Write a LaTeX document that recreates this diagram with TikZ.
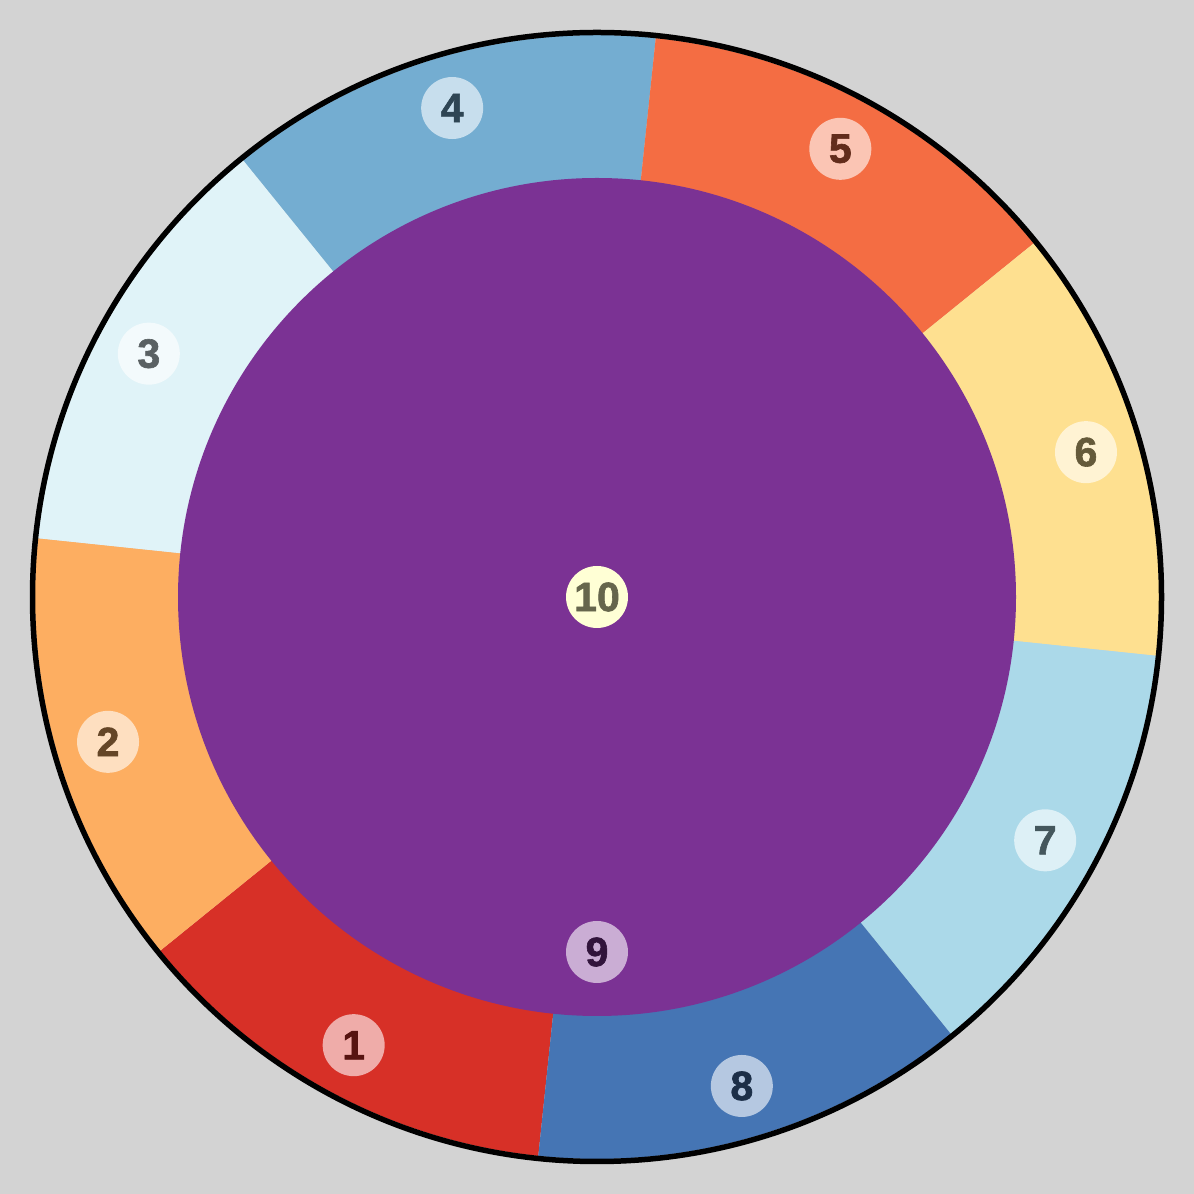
\documentclass[tikz,border=0pt]{standalone}
\usepackage{fontspec}
\setmainfont{Liberation Sans}
\newfontfamily\lblfont{Liberation Sans}[BoldFeatures={FakeBold=1.5}]
\usetikzlibrary{calc}
\definecolor{bggray}{HTML}{D3D3D3}
\definecolor{sA}{HTML}{D73027}
\definecolor{sB}{HTML}{FDAE61}
\definecolor{sC}{HTML}{E0F3F8}
\definecolor{sD}{HTML}{74ADD1}
\definecolor{sE}{HTML}{F46D43}
\definecolor{sF}{HTML}{FEE090}
\definecolor{sG}{HTML}{ABD9E9}
\definecolor{sH}{HTML}{4575B4}
\definecolor{sI}{HTML}{7B3294}
\definecolor{sJ}{HTML}{FFFFBF}
\begin{document}
\begin{tikzpicture}[x=1pt,y=1pt,
  lbl/.style={circle, minimum size=62pt, inner sep=0pt,
    font=\lblfont\fontsize{41}{41}\selectfont\bfseries}]
\fill[bggray] (0,0) rectangle (1194,1194);
\useasboundingbox (0,0) rectangle (1194,1194);
\coordinate (c) at (597,597);
\foreach \a/\col in {219/sA,174/sB,129/sC,84/sD,39/sE,-6/sF,309/sG,264/sH}{
  \fill[\col] (c) -- ++(\a:562) arc[start angle=\a, delta angle=45, radius=562] -- cycle;
}
\fill[sI] (c) circle[radius=419];
\draw[black, line width=5.5pt] (c) circle[radius=564.5];
\foreach \n/\a/\col in {1/241.5/sA,2/196.5/sB,3/151.5/sC,4/106.5/sD,5/61.5/sE,6/16.5/sF,7/331.5/sG,8/286.5/sH}{
  \node[lbl, fill=\col!40!white, text=\col!40!black] (l\n) at ($(c)+(\a:510)$) {\n};
}
\node[lbl, fill=sI!40!white, text=sI!40!black] (l9) at (597,242) {9};
\node[lbl, fill=sJ!65!white, text=sJ!40!black] (l10) at (c) {10};
\end{tikzpicture}
\end{document}
